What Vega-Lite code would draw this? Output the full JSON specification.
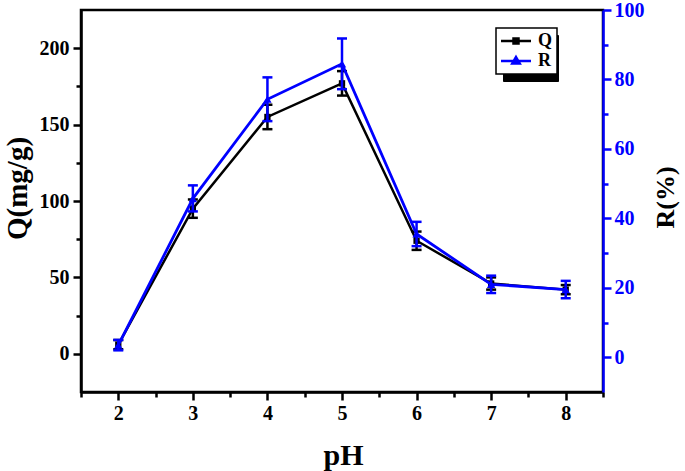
{
  "$schema": "https://vega.github.io/schema/vega-lite/v6.json",
  "width": 522,
  "height": 382,
  "autosize": {"type": "none"},
  "padding": {"left": 81, "top": 10, "right": 82, "bottom": 79},
  "background": "white",
  "config": {
    "font": "Liberation Serif",
    "view": {"stroke": "black", "strokeWidth": 2.5},
    "axis": {
      "labelFont": "Liberation Serif", "labelFontWeight": "bold", "labelFontSize": 20,
      "titleFont": "Liberation Serif", "titleFontWeight": "bold", "titleFontSize": 26,
      "grid": false, "domainWidth": 2.5, "tickWidth": 2.5,
      "domainColor": "black", "tickColor": "black", "labelColor": "black", "titleColor": "black",
      "labelOverlap": false, "labelFlush": false
    },
    "legend": {
      "labelFont": "Liberation Serif", "labelFontWeight": "bold", "labelFontSize": 18,
      "symbolSize": 100, "symbolOffset": 7, "labelOffset": 13, "rowPadding": 2, "padding": 4
    }
  },
  "data": {
    "values": [
      {"pH": 2, "series": "Q", "value": 6, "lo": 3, "hi": 9},
      {"pH": 3, "series": "Q", "value": 95, "lo": 89, "hi": 101},
      {"pH": 4, "series": "Q", "value": 155, "lo": 147, "hi": 163},
      {"pH": 5, "series": "Q", "value": 177, "lo": 169, "hi": 185},
      {"pH": 6, "series": "Q", "value": 74, "lo": 68, "hi": 80},
      {"pH": 7, "series": "Q", "value": 46, "lo": 42, "hi": 50},
      {"pH": 8, "series": "Q", "value": 42, "lo": 39, "hi": 45},
      {"pH": 2, "series": "R", "value": 3.5, "lo": 2, "hi": 5},
      {"pH": 3, "series": "R", "value": 45.7, "lo": 42, "hi": 49.5},
      {"pH": 4, "series": "R", "value": 74.3, "lo": 68, "hi": 80.6},
      {"pH": 5, "series": "R", "value": 84.5, "lo": 77.2, "hi": 91.8},
      {"pH": 6, "series": "R", "value": 35.5, "lo": 32, "hi": 39},
      {"pH": 7, "series": "R", "value": 21, "lo": 18.5, "hi": 23.5},
      {"pH": 8, "series": "R", "value": 19.5, "lo": 17, "hi": 22}
    ]
  },
  "encoding": {
    "x": {
      "field": "pH", "type": "quantitative",
      "scale": {"domain": [1.5, 8.5], "nice": false, "zero": false},
      "axis": {
        "title": "pH", "titleFontSize": 30,
        "values": [1.5, 2, 2.5, 3, 3.5, 4, 4.5, 5, 5.5, 6, 6.5, 7, 7.5, 8, 8.5],
        "labelExpr": "datum.value % 1 === 0 ? format(datum.value, 'd') : ''",
        "tickSize": {"condition": {"test": "datum.value % 1 === 0", "value": 8}, "value": 5},
        "labelPadding": 3,
        "titleX": 262, "titleY": 63, "titleBaseline": "middle", "titleAlign": "center"
      }
    }
  },
  "layer": [
    {
      "transform": [{"filter": "datum.series === 'Q'"}],
      "encoding": {
        "y": {
          "field": "value", "type": "quantitative",
          "scale": {"domain": [-25, 225], "nice": false, "zero": false},
          "axis": {
            "title": "Q(mg/g)", "orient": "left", "titleFontSize": 29,
            "values": [0, 25, 50, 75, 100, 125, 150, 175, 200],
            "labelExpr": "datum.value % 50 === 0 ? datum.label : ''",
            "tickSize": {"condition": {"test": "datum.value % 50 === 0", "value": 8}, "value": 5},
            "labelPadding": 4,
            "titleX": -64, "titleY": 178, "titleAngle": -90, "titleAlign": "center", "titleBaseline": "middle"
          }
        }
      },
      "layer": [
        {
          "mark": {"type": "rule", "color": "black", "strokeWidth": 2.5},
          "encoding": {
            "y": {"field": "lo", "type": "quantitative", "scale": {"domain": [-25, 225], "nice": false, "zero": false},
              "axis": {
                "title": "Q(mg/g)", "orient": "left", "titleFontSize": 29,
                "values": [0, 25, 50, 75, 100, 125, 150, 175, 200],
                "labelExpr": "datum.value % 50 === 0 ? datum.label : ''",
                "tickSize": {"condition": {"test": "datum.value % 50 === 0", "value": 8}, "value": 5},
                "labelPadding": 4,
                "titleX": -64, "titleY": 178, "titleAngle": -90, "titleAlign": "center", "titleBaseline": "middle"
              }},
            "y2": {"field": "hi"}
          }
        },
        {
          "mark": {"type": "tick", "orient": "horizontal", "color": "black", "size": 10, "thickness": 2.5, "opacity": 1},
          "encoding": {
            "y": {"field": "lo", "type": "quantitative", "scale": {"domain": [-25, 225], "nice": false, "zero": false},
              "axis": {
                "title": "Q(mg/g)", "orient": "left", "titleFontSize": 29,
                "values": [0, 25, 50, 75, 100, 125, 150, 175, 200],
                "labelExpr": "datum.value % 50 === 0 ? datum.label : ''",
                "tickSize": {"condition": {"test": "datum.value % 50 === 0", "value": 8}, "value": 5},
                "labelPadding": 4,
                "titleX": -64, "titleY": 178, "titleAngle": -90, "titleAlign": "center", "titleBaseline": "middle"
              }}
          }
        },
        {
          "mark": {"type": "tick", "orient": "horizontal", "color": "black", "size": 10, "thickness": 2.5, "opacity": 1},
          "encoding": {
            "y": {"field": "hi", "type": "quantitative", "scale": {"domain": [-25, 225], "nice": false, "zero": false},
              "axis": {
                "title": "Q(mg/g)", "orient": "left", "titleFontSize": 29,
                "values": [0, 25, 50, 75, 100, 125, 150, 175, 200],
                "labelExpr": "datum.value % 50 === 0 ? datum.label : ''",
                "tickSize": {"condition": {"test": "datum.value % 50 === 0", "value": 8}, "value": 5},
                "labelPadding": 4,
                "titleX": -64, "titleY": 178, "titleAngle": -90, "titleAlign": "center", "titleBaseline": "middle"
              }}
          }
        },
        {
          "mark": {"type": "line", "strokeWidth": 2.5},
          "encoding": {
            "color": {
              "field": "series", "type": "nominal",
              "scale": {"domain": ["Q", "R"], "range": ["#000000", "#0000FF"]},
              "legend": {
                "orient": "none", "legendX": 415, "legendY": 18, "title": null,
                "strokeColor": "black", "fillColor": "white", "zindex": 2,
                "encode": {
                  "legend": {"update": {"strokeWidth": {"value": 1.5}}},
                  "symbols": {
                    "update": {
                      "shape": {"signal": "datum.value === 'Q' ? 'M-3,0H3M-0.5,-0.5H0.5V0.5H-0.5Z' : 'M-3,0H3M0,-0.8L0.75,0.5L-0.75,0.5Z'"},
                      "fill": {"scale": "color", "field": "value"},
                      "stroke": {"scale": "color", "field": "value"},
                      "strokeWidth": {"value": 2.5},
                      "opacity": {"value": 1}
                    }
                  },
                  "labels": {"update": {"fill": {"value": "black"}}}
                }
              }
            }
          }
        },
        {
          "mark": {"type": "point", "shape": "square", "filled": true, "color": "black", "opacity": 1},
          "encoding": {
            "size": {
              "field": "series", "type": "ordinal",
              "scale": {"domain": ["R", "Q"], "range": [40, 40]},
              "legend": {
                "orient": "none", "legendX": 422, "legendY": 25, "title": null,
                "strokeColor": "black", "fillColor": "black", "zindex": 1,
                "labelExpr": "' '", "labelOffset": 22,
                "encode": {
                  "symbols": {"update": {"opacity": {"value": 0}}},
                  "labels": {"update": {"fill": {"value": "black"}}}
                }
              }
            }
          }
        }
      ]
    },
    {
      "transform": [{"filter": "datum.series === 'R'"}],
      "encoding": {
        "y": {
          "field": "value", "type": "quantitative",
          "scale": {"domain": [-10, 100], "nice": false, "zero": false},
          "axis": {
            "title": "R(%)", "orient": "right",
            "values": [0, 10, 20, 30, 40, 50, 60, 70, 80, 90, 100],
            "labelExpr": "datum.value % 20 === 0 ? datum.label : ''",
            "tickSize": {"condition": {"test": "datum.value % 20 === 0", "value": 8}, "value": 5},
            "labelPadding": 3,
            "domainColor": "#0000FF", "tickColor": "#0000FF", "labelColor": "#0000FF", "titleColor": "black",
            "titleX": 62, "titleY": 187, "titleAngle": -90, "titleAlign": "center", "titleBaseline": "middle"
          }
        }
      },
      "layer": [
        {
          "mark": {"type": "rule", "color": "#0000FF", "strokeWidth": 2.5},
          "encoding": {
            "y": {"field": "lo", "type": "quantitative", "scale": {"domain": [-10, 100], "nice": false, "zero": false},
              "axis": {
                "title": "R(%)", "orient": "right",
                "values": [0, 10, 20, 30, 40, 50, 60, 70, 80, 90, 100],
                "labelExpr": "datum.value % 20 === 0 ? datum.label : ''",
                "tickSize": {"condition": {"test": "datum.value % 20 === 0", "value": 8}, "value": 5},
                "labelPadding": 3,
                "domainColor": "#0000FF", "tickColor": "#0000FF", "labelColor": "#0000FF", "titleColor": "black",
                "titleX": 62, "titleY": 187, "titleAngle": -90, "titleAlign": "center", "titleBaseline": "middle"
              }},
            "y2": {"field": "hi"}
          }
        },
        {
          "mark": {"type": "tick", "orient": "horizontal", "color": "#0000FF", "size": 10, "thickness": 2.5, "opacity": 1},
          "encoding": {
            "y": {"field": "lo", "type": "quantitative", "scale": {"domain": [-10, 100], "nice": false, "zero": false},
              "axis": {
                "title": "R(%)", "orient": "right",
                "values": [0, 10, 20, 30, 40, 50, 60, 70, 80, 90, 100],
                "labelExpr": "datum.value % 20 === 0 ? datum.label : ''",
                "tickSize": {"condition": {"test": "datum.value % 20 === 0", "value": 8}, "value": 5},
                "labelPadding": 3,
                "domainColor": "#0000FF", "tickColor": "#0000FF", "labelColor": "#0000FF", "titleColor": "black",
                "titleX": 62, "titleY": 187, "titleAngle": -90, "titleAlign": "center", "titleBaseline": "middle"
              }}
          }
        },
        {
          "mark": {"type": "tick", "orient": "horizontal", "color": "#0000FF", "size": 10, "thickness": 2.5, "opacity": 1},
          "encoding": {
            "y": {"field": "hi", "type": "quantitative", "scale": {"domain": [-10, 100], "nice": false, "zero": false},
              "axis": {
                "title": "R(%)", "orient": "right",
                "values": [0, 10, 20, 30, 40, 50, 60, 70, 80, 90, 100],
                "labelExpr": "datum.value % 20 === 0 ? datum.label : ''",
                "tickSize": {"condition": {"test": "datum.value % 20 === 0", "value": 8}, "value": 5},
                "labelPadding": 3,
                "domainColor": "#0000FF", "tickColor": "#0000FF", "labelColor": "#0000FF", "titleColor": "black",
                "titleX": 62, "titleY": 187, "titleAngle": -90, "titleAlign": "center", "titleBaseline": "middle"
              }}
          }
        },
        {
          "mark": {"type": "line", "strokeWidth": 2.8},
          "encoding": {
            "color": {"field": "series", "type": "nominal", "scale": {"domain": ["Q", "R"], "range": ["#000000", "#0000FF"]}}
          }
        },
        {
          "mark": {"type": "point", "shape": "triangle-up", "filled": true, "color": "#0000FF", "size": 70, "opacity": 1}
        }
      ]
    }
  ],
  "resolve": {"scale": {"y": "independent"}}
}
